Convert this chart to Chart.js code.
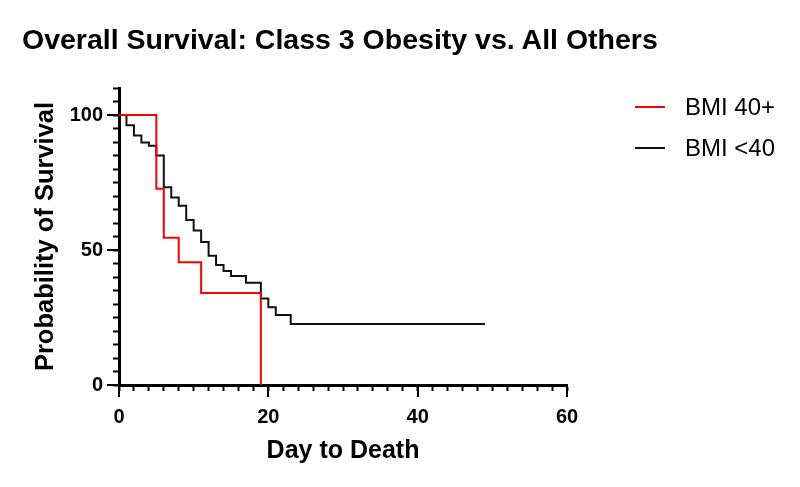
<!DOCTYPE html>
<html>
<head>
<meta charset="utf-8">
<script src="https://cdn.jsdelivr.net/npm/chart.js@4.4.1/dist/chart.umd.min.js"></script>
<style>
  body { margin: 0; background: #fff; }
  #wrap { position: relative; width: 800px; height: 487px; }
  #title { position: absolute; left: 22px; top: 25px; font-family: 'Liberation Sans', Arial, sans-serif; font-weight: bold; font-size: 28.5px; line-height: 1; white-space: nowrap; color: #000; }
  #legend { position: absolute; left: 635px; top: 86px; font-family: 'Liberation Sans', Arial, sans-serif; font-size: 24px; color: #000; }
  .row { height: 41px; line-height: 41px; white-space: nowrap; }
  .swatch { display: inline-block; width: 30px; height: 2px; margin-right: 20px; vertical-align: middle; position: relative; top: -2px; }
</style>
</head>
<body>
<div id="wrap">
  <canvas id="chart" width="800" height="487"></canvas>
  <div id="title"></div>
  <div id="legend"></div>
</div>
<script>
// data
const chartTitle = 'Overall Survival: Class 3 Obesity vs. All Others';
const seriesNames = ['BMI 40+', 'BMI <40'];
const seriesColors = ['#ff0000', '#111111'];

const bmi40Days = [0, 5, 6, 8, 11, 19];
const bmi40Surv = [100, 72.7, 54.5, 45.5, 34.1, 0];

const bmiUnderDays = [0, 1, 2, 3, 4, 5, 6, 7, 8, 9, 10, 11, 12, 13, 14, 15, 17, 19, 20, 21, 23, 49];
const bmiUnderSurv = [100, 96.2, 92.4, 89.8, 88.6, 85.0, 73.2, 69.4, 66.4, 61.1, 57.2, 53.0, 47.9, 44.4, 42.2, 40.4, 37.9, 32.0, 28.8, 25.9, 22.6, 22.6];

const xTickLabels = [0, 20, 40, 60];
const yTickLabels = [0, 50, 100];

const toPoints = (xs, ys) => xs.map((x, i) => ({ x: x, y: ys[i] }));

Chart.defaults.font.family = "'Liberation Sans', Arial, sans-serif";
Chart.defaults.color = '#000';

// longer tick marks at the labelled values
const majorTicks = {
    id: 'majorTicks',
    afterDraw(chart) {
        const { ctx, scales: { x, y } } = chart;
        ctx.save();
        ctx.strokeStyle = '#000';
        ctx.lineWidth = 2;
        xTickLabels.forEach(v => {
            const px = Math.round(x.getPixelForValue(v));
            ctx.beginPath();
            ctx.moveTo(px, y.bottom);
            ctx.lineTo(px, y.bottom + 12);
            ctx.stroke();
        });
        yTickLabels.forEach(v => {
            const py = Math.round(y.getPixelForValue(v));
            ctx.beginPath();
            ctx.moveTo(x.left, py);
            ctx.lineTo(x.left - 12, py);
            ctx.stroke();
        });
        ctx.restore();
    }
};

const datasets = [
    { label: seriesNames[0], data: toPoints(bmi40Days, bmi40Surv), borderColor: seriesColors[0] },
    { label: seriesNames[1], data: toPoints(bmiUnderDays, bmiUnderSurv), borderColor: seriesColors[1] }
].map(d => Object.assign(d, { showLine: true, stepped: 'before', borderWidth: 2, pointRadius: 0, fill: false }));

new Chart(document.getElementById('chart'), {
    type: 'scatter',
    data: { datasets: datasets },
    options: {
        responsive: false,
        animation: false,
        devicePixelRatio: 1,
        layout: { padding: { left: 22, right: 233, top: 88, bottom: 0 } },
        plugins: {
            legend: { display: false },
            tooltip: { enabled: false },
            title: { display: false }
        },
        scales: {
            x: {
                type: 'linear',
                min: 0,
                max: 60,
                afterFit: (s) => { s.height = 102; s.paddingRight = 0; s.paddingLeft = 0; },
                border: { display: true, color: '#000', width: 3 },
                grid: { display: true, drawOnChartArea: false, tickLength: 6, tickWidth: 2, tickColor: '#000' },
                ticks: {
                    stepSize: 2,
                    autoSkip: false,
                    maxRotation: 0,
                    padding: 14,
                    font: { size: 20, weight: 'bold' },
                    callback: (v) => xTickLabels.includes(v) ? String(v) : ''
                },
                title: {
                    display: true,
                    text: 'Day to Death',
                    color: '#000',
                    font: { size: 25, weight: 'bold' },
                    padding: { top: 0, bottom: 21 }
                }
            },
            y: {
                type: 'linear',
                min: 0,
                max: 110,
                afterFit: (s) => { s.width = 97; s.paddingTop = 0; s.paddingBottom = 0; },
                border: { display: true, color: '#000', width: 3 },
                grid: { display: true, drawOnChartArea: false, tickLength: 6, tickWidth: 2, tickColor: '#000' },
                ticks: {
                    stepSize: 5,
                    autoSkip: false,
                    padding: 10,
                    font: { size: 20, weight: 'bold' },
                    callback: (v) => yTickLabels.includes(v) ? String(v) : ''
                },
                title: {
                    display: true,
                    text: 'Probability of Survival',
                    color: '#000',
                    font: { size: 25.5, weight: 'bold' },
                    padding: { top: 9, bottom: 0 }
                }
            }
        }
    },
    plugins: [majorTicks]
});

document.getElementById('title').textContent = chartTitle;

// legend
const legend = document.getElementById('legend');
seriesNames.forEach((name, i) => {
    const row = document.createElement('div');
    row.className = 'row';
    const sw = document.createElement('span');
    sw.className = 'swatch';
    sw.style.background = seriesColors[i];
    row.appendChild(sw);
    row.appendChild(document.createTextNode(name));
    legend.appendChild(row);
});
</script>
</body>
</html>
